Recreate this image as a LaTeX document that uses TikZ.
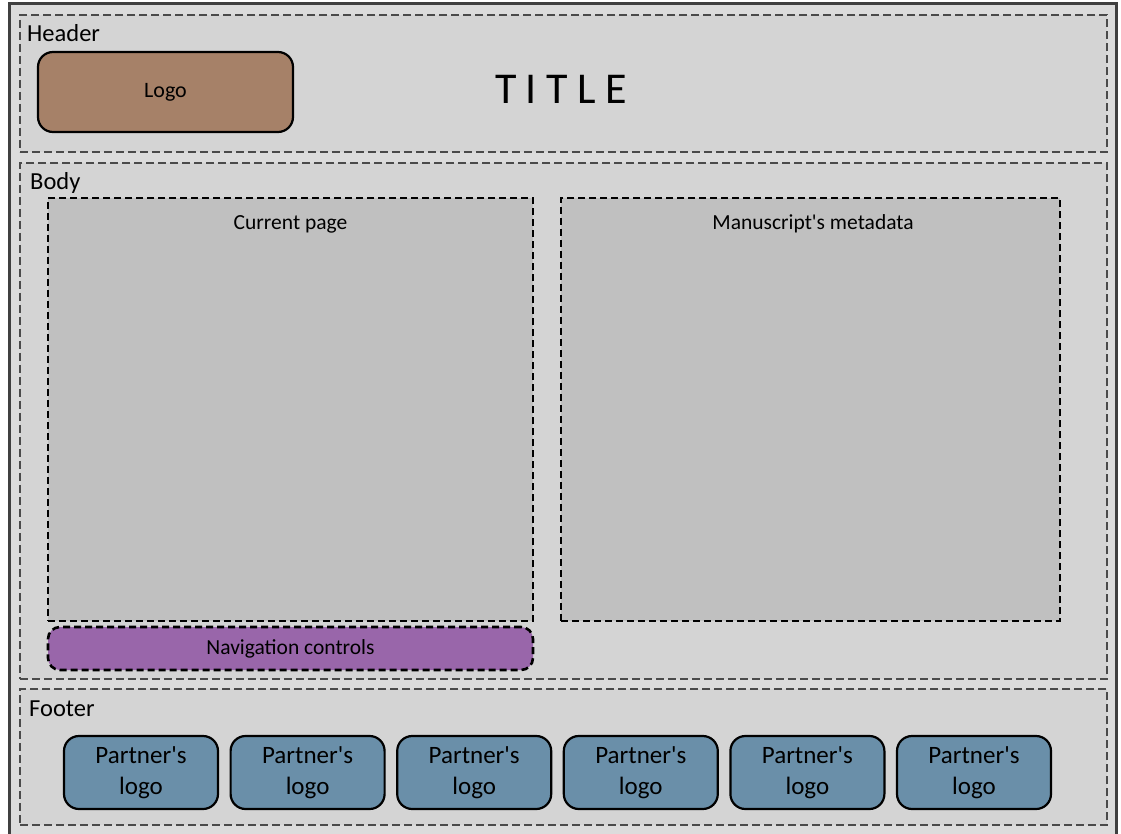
\documentclass[tikz,border=0pt]{standalone}
\usepackage{fontspec}
\setmainfont{Carlito}[Ligatures=TeXOff]
\definecolor{framebg}{HTML}{DCDCDC}
\definecolor{frameline}{HTML}{404040}
\definecolor{sectionfill}{HTML}{D4D4D4}
\definecolor{sectionline}{HTML}{4A4A4A}
\definecolor{panelfill}{HTML}{C0C0C0}
\definecolor{logofill}{HTML}{A68168}
\definecolor{navfill}{HTML}{9966AA}
\definecolor{partnerfill}{HTML}{6A8FA9}
\tikzset{
  section/.style={draw=sectionline, fill=sectionfill, line width=2.4pt,
    dash pattern=on 8pt off 4pt, inner sep=0pt, outer sep=0pt},
  panel/.style={draw=black, fill=panelfill, line width=2.6pt,
    dash pattern=on 7pt off 4pt, inner sep=0pt, outer sep=0pt},
  logobox/.style={draw=black, fill=logofill, line width=2.2pt,
    rounded corners=15pt, inner sep=0pt, font=\fontsize{22}{26}\selectfont},
  navbox/.style={draw=black, fill=navfill, line width=2.6pt,
    dash pattern=on 7pt off 4pt, rounded corners=12pt, inner sep=0pt,
    font=\fontsize{21.5}{26}\selectfont},
  partner/.style={draw=black, fill=partnerfill, line width=2.2pt,
    rounded corners=15pt, inner sep=0pt, minimum width=154pt,
    minimum height=73pt, align=center,
    font=\fontsize{25}{31}\selectfont},
  seclabel/.style={anchor=base west, inner sep=0pt,
    font=\fontsize{24.5}{28}\selectfont},
  panellabel/.style={anchor=base, inner sep=0pt,
    font=\fontsize{21.5}{26}\selectfont},
}
\begin{document}
\begin{tikzpicture}[x=1pt, y=-1pt]
\useasboundingbox (0,0) rectangle (1121,834);
% outer frame
\draw[frameline, fill=framebg, line width=3pt] (9,4) rectangle (1116.5,840);

% sections
\node[section, minimum width=1087pt, minimum height=137pt] (header) at (563.5,83.5) {};
\node[section, minimum width=1087pt, minimum height=516pt] (body) at (563.5,421) {};
\node[section, minimum width=1087pt, minimum height=136pt] (footer) at (563.5,757) {};
\node[seclabel] (headerlbl) at (27,42) {Header};
\node[seclabel] (bodylbl) at (30,190) {Body};
\node[seclabel] (footerlbl) at (29,716) {Footer};

% header content
\node[logobox, minimum width=255pt, minimum height=80pt] (logo) at (165.5,92) {Logo};
\node[anchor=base, inner sep=0pt, font=\fontsize{44}{50}\selectfont] (title) at (561,104)
  {T\hspace{9.5pt}I\hspace{9.5pt}T\hspace{9.5pt}L\hspace{9.5pt}E};

% body content
\node[panel, minimum width=485pt, minimum height=423pt] (current) at (290.5,409.5) {};
\node[panel, minimum width=499pt, minimum height=423pt] (meta) at (810.5,409.5) {};
\node[panellabel] (currentlbl) at (290.5,230) {Current page};
\node[panellabel] (metalbl) at (813,230) {Manuscript's metadata};
\node[navbox, minimum width=485pt, minimum height=43pt] (nav) at (290.5,648.5) {Navigation controls};

% footer content
\foreach \i in {0,...,5}{
  \node[partner] (partner\i) at ({141+166.6*\i},772.5) {Partner's\\logo};
}
\end{tikzpicture}
\end{document}
